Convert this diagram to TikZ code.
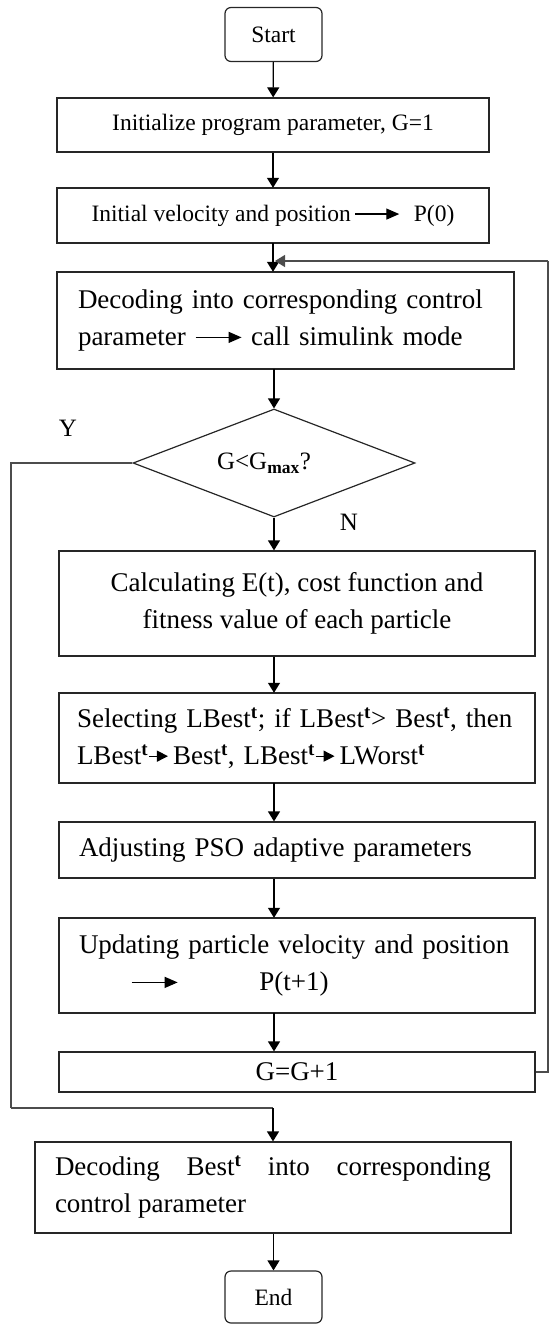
\documentclass[tikz,border=0pt]{standalone}
\usepackage{fontspec}
\setmainfont{Liberation Serif}
\usetikzlibrary{shapes.geometric,arrows.meta}

% inline arrow used inside the box texts
\newcommand\txtarrow[2][13pt]{\tikz[baseline=-0.3em,x=1pt,y=1pt]\draw[line width=1.3pt,-{Triangle[length=#1,width=11pt]}] (0,0)--(#2,0);}
\newcommand\sm{\fontsize{23.5}{30}\selectfont}
\newcommand\bg{\fontsize{27}{37}\selectfont}

\begin{document}
\begin{tikzpicture}[x=1pt,y=-1pt,
  line width=1.2pt,
  box/.style={draw=black!85,rectangle,inner sep=0pt,font=\bg},
  term/.style={draw=black!85,rounded corners=6pt,inner sep=0pt,font=\sm,
               minimum width=97pt,minimum height=54pt},
  decision/.style={draw=black!85,diamond,inner sep=0pt,font=\fontsize{25}{30}\selectfont,
               minimum width=282pt,minimum height=108pt},
  flow/.style={draw=black,-{Triangle[length=10pt,width=12pt]}},
  loop/.style={draw=black!70,line width=1.4pt},
  lbl/.style={font=\fontsize{25}{30}\selectfont,inner sep=0pt}]

\useasboundingbox (0,0) rectangle (555,1324);

% process steps
\node[term] (start) at (273.5,34.5) {Start};
\node[box,font=\sm,minimum width=432pt,minimum height=54pt] (init) at (273,125)
  {Initialize program parameter, G=1};
\node[box,font=\sm,minimum width=432pt,minimum height=55pt] (vel) at (273,215.5)
  {Initial velocity and position\,\txtarrow{44pt}\hspace{14pt}P(0)};
\node[box,minimum width=457pt,minimum height=97pt,text width=415pt,align=left] (dec) at (285.5,320.5)
  {\mbox{Decoding into corresponding control}\\\mbox{parameter \txtarrow{46pt} call simulink mode}};
\node[decision] (cond) at (274,463) {\hspace*{-20pt}G<G\textsubscript{\textbf{max}}?};
\node[box,minimum width=476pt,minimum height=105pt,align=center] (calc) at (297,603.5)
  {Calculating E(t), cost function and\\fitness value of each particle};
\node[box,minimum width=476pt,minimum height=90pt,text width=440pt,align=left] (sel) at (297,738)
  {\mbox{Selecting LBest\textsuperscript{\textbf{t}}; if LBest\textsuperscript{\textbf{t}}> Best\textsuperscript{\textbf{t}}, then}\\
   \mbox{LBest\textsuperscript{\textbf{t}}\txtarrow[11pt]{19pt}\,Best\textsuperscript{\textbf{t}}, LBest\textsuperscript{\textbf{t}}\txtarrow[11pt]{19pt}\,LWorst\textsuperscript{\textbf{t}}}};
\node[box,minimum width=476pt,minimum height=56pt,text width=436pt,align=left] (adj) at (297,850)
  {Adjusting PSO adaptive parameters};
\node[box,minimum width=476pt,minimum height=95pt,text width=436pt,align=left] (upd) at (297,965.5)
  {\mbox{Updating particle velocity and position}\\
   \hspace*{52pt}\txtarrow{46pt}\hspace{81pt}P(t+1)};
\node[box,minimum width=476pt,minimum height=40pt] (inc) at (297,1072) {G=G+1};
\node[box,minimum width=476pt,minimum height=91pt,text width=436pt,align=justify] (fin) at (273,1187.5)
  {Decoding Best\textsuperscript{\textbf{t}} into corresponding\linebreak control parameter};
\node[term,minimum height=52pt] (stop) at (273.5,1297) {End};

% branch labels
\node[lbl] (ylab) at (68,428) {Y};
\node[lbl] (nlab) at (349,522) {N};

% main flow
\draw[flow] (start) -- (init);
\draw[flow] (init) -- (vel);
\draw[flow] (vel.south) -- (vel.south |- dec.north);
\draw[flow] (dec.south -| cond.north) -- (cond.north);
\draw[flow] (cond.south) -- (cond.south |- calc.north);
\draw[flow] (calc.south -| cond.south) -- (sel.north -| cond.south);
\draw[flow] (sel.south -| cond.south) -- (adj.north -| cond.south);
\draw[flow] (adj.south -| cond.south) -- (upd.north -| cond.south);
\draw[flow] (upd.south -| cond.south) -- (inc.north -| cond.south);
\draw[flow] (fin.south -| stop.north) -- (stop.north);

% loop back to decoding after G=G+1
\coordinate (rt) at (548,261);
\coordinate (join) at (vel.south |- rt);
\draw[loop] (inc.east) -| (rt);
\draw[loop,-{Triangle[length=10pt,width=12pt]}] (rt) -- ([xshift=2pt]join);

% exit branch when the generation limit is reached
\coordinate (lt) at (11,1108);
\draw[loop] (cond.west) -| (lt);
\draw[loop] (lt) -- (lt -| fin.north);
\draw[flow] (lt -| fin.north) -- (fin.north);
\end{tikzpicture}
\end{document}
